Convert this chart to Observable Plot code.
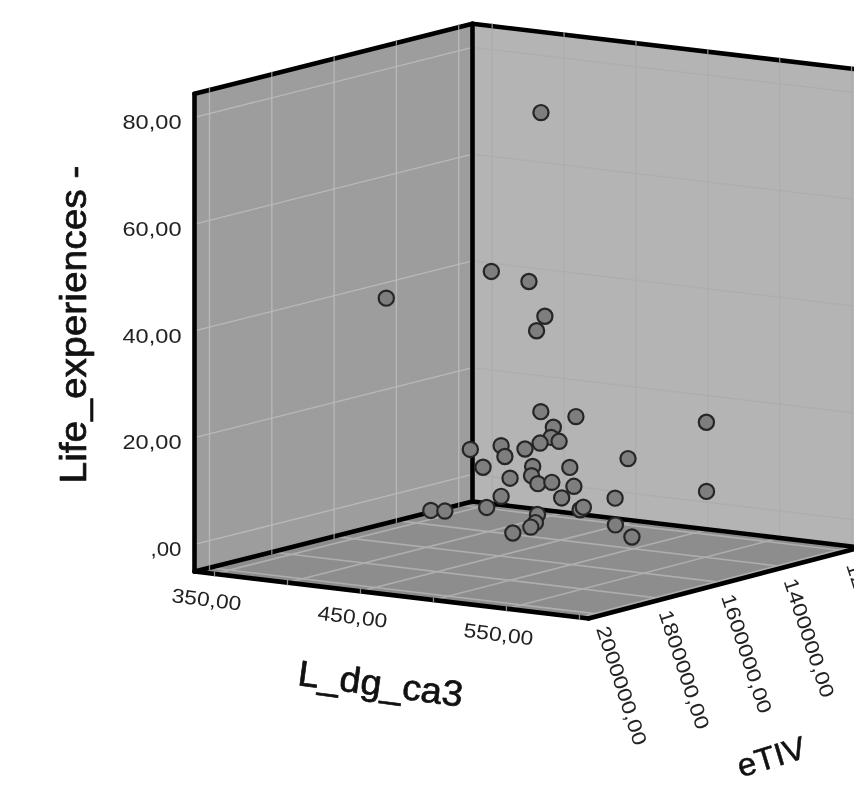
<!DOCTYPE html>
<html>
<head>
<meta charset="utf-8">
<script src="https://cdn.jsdelivr.net/npm/d3@7"></script>
<script src="https://cdn.jsdelivr.net/npm/@observablehq/plot@0.6"></script>
<style>
html,body{margin:0;padding:0;background:#fff;overflow:hidden;width:854px;height:785px}
svg{display:block;overflow:hidden;filter:blur(0.45px)}
</style>
</head>
<body>
<div id="chart"></div>
<script>
// ---- data (L_dg_ca3, eTIV, Life_experiences) ----
const caValues = [479.1,464.0,470.8,500.9,456.9,410.8,593.3,574.4,479.0,522.3,468.5,486.1,510.7,478.5,432.4,411.1,487.2,454.2,558.2,439.1,454.2,537.1,472.6,476.9,457.8,486.6,520.9,432.4,493.4,549.3,422.4,506.1,527.4,383.8,393.5,495.8,475.3,491.2,478.8,549.5,560.9];
const etivValues = [1600000,1690000,1600000,1690000,1510000,1780000,1600000,1510000,1600000,1690000,1510000,1600000,1690000,1600000,1510000,1510000,1690000,1600000,1690000,1600000,1510000,1780000,1600000,1690000,1510000,1600000,1690000,1510000,1600000,1690000,1510000,1600000,1690000,1510000,1510000,1690000,1600000,1690000,1690000,1690000,1690000];
const lifeValues = [78.9,50.0,47.0,42.8,36.0,44.6,24.6,9.7,22.9,24.7,18.3,18.3,19.7,17.0,13.7,12.3,17.5,13.7,18.0,11.2,10.5,17.0,10.7,11.7,7.4,9.9,11.6,4.2,7.2,10.3,1.8,5.4,7.9,0,0.2,5.5,2.0,3.0,1.5,5.3,3.4];

const caTicks = [350,400,450,500,550,600];
const caLabelled = [350,450,550];
const caLabels = ["350,00","450,00","550,00"];
const etivTicks = [2000000,1800000,1600000,1400000,1200000];
const etivLabels = ["2000000,00","1800000,00","1600000,00","1400000,00","1200000,00"];
const lifeTicks = [0,20,40,60,80];
const lifeLabels = [",00","20,00","40,00","60,00","80,00"];

const caDomain = [336.3,606.2];
const etivDomain = [2048150,1155700];   // front to back
const lifeDomain = [-5.06,84.4];

// ---- oblique view of the cube, fed to Plot's x / y scales ----
const corner = {D:[194,571],F:[588,618],B:[472,501],R:[860,547]};
const liftPerUnit = 5.34;
function project(ca, etiv, life){
  const u=(ca-caDomain[0])/(caDomain[1]-caDomain[0]);
  const v=(etiv-etivDomain[0])/(etivDomain[1]-etivDomain[0]);
  const bl=i=>(1-u)*(1-v)*corner.D[i]+u*(1-v)*corner.F[i]+(1-u)*v*corner.B[i]+u*v*corner.R[i];
  return {x:bl(0), y:bl(1)-(life-lifeDomain[0])*liftPerUnit};
}
const seg=(a,b)=>({x1:a.x,y1:a.y,x2:b.x,y2:b.y});
const [ca0,ca1]=caDomain,[e0,e1]=etivDomain,[l0,l1]=lifeDomain;

const poly=(pts)=>pts.map(p=>project(...p));
const paneLeft=poly([[ca0,e0,l0],[ca0,e1,l0],[ca0,e1,l1],[ca0,e0,l1]]);
const paneRight=poly([[ca0,e1,l0],[ca1,e1,l0],[ca1,e1,l1],[ca0,e1,l1]]);
const paneFloor=poly([[ca0,e0,l0],[ca1,e0,l0],[ca1,e1,l0],[ca0,e1,l0]]);

const gridLeft=[
  ...etivTicks.map(e=>seg(project(ca0,e,l0),project(ca0,e,l1))),
  ...lifeTicks.map(l=>seg(project(ca0,e0,l),project(ca0,e1,l)))
];
const gridRight=[
  ...caTicks.map(c=>seg(project(c,e1,l0),project(c,e1,l1))),
  ...lifeTicks.map(l=>seg(project(ca0,e1,l),project(ca1,e1,l)))
];
const gridFloor=[
  ...caTicks.map(c=>seg(project(c,e0,l0),project(c,e1,l0))),
  ...etivTicks.map(e=>seg(project(ca0,e,l0),project(ca1,e,l0)))
];
const edges=[
  [[ca0,e0,l0],[ca0,e0,l1]],[[ca0,e1,l0],[ca0,e1,l1]],
  [[ca0,e0,l1],[ca0,e1,l1]],[[ca0,e1,l1],[ca1,e1,l1]],
  [[ca0,e0,l0],[ca0,e1,l0]],[[ca0,e1,l0],[ca1,e1,l0]],
  [[ca0,e0,l0],[ca1,e0,l0]],[[ca1,e0,l0],[ca1,e1,l0]]
].map(([a,b])=>seg(project(...a),project(...b)));
const gaps=[
  ...caTicks.map(c=>seg(project(c,e0,l0-.5),project(c,e0,l0+.5))),
  ...etivTicks.map(e=>seg(project(ca0,e,l0-.5),project(ca0,e,l0+.5))),
  ...etivTicks.map(e=>seg(project(ca0,e,l1-.5),project(ca0,e,l1+.5))),
  ...caTicks.map(c=>seg(project(c,e1,l1-.5),project(c,e1,l1+.5)))
];

const points=caValues.map((c,i)=>project(c,etivValues[i],lifeValues[i]));
const lifeText=lifeTicks.map((l,i)=>({...project(ca0,e0,l),t:lifeLabels[i]}));
const caText=caLabelled.map((c,i)=>({...project(c,e0,l0),t:caLabels[i]}));
const etivSpread=1.5;
const etivText=etivTicks.map((e,i)=>{const p=project(ca1,e,l0);return {x:p.x+i*etivSpread,y:p.y,t:etivLabels[i]};});

const font="Liberation Sans, Arial, sans-serif";
const linkXY={x1:"x1",y1:"y1",x2:"x2",y2:"y2"};

const plot=Plot.plot({
  width:854,height:785,margin:0,
  x:{type:"linear",domain:[0,854],range:[0,854],axis:null},
  y:{type:"linear",domain:[0,785],range:[0,785],axis:null},
  style:{fontFamily:font,background:"#fff"},
  marks:[
    Plot.line(paneLeft,{x:"x",y:"y",fill:"#9d9d9d",stroke:"none"}),
    Plot.line(paneRight,{x:"x",y:"y",fill:"#b4b4b4",stroke:"none"}),
    Plot.line(paneFloor,{x:"x",y:"y",fill:"#8d8d8d",stroke:"none"}),
    Plot.link(gridLeft,{...linkXY,stroke:"#b9b9b9",strokeWidth:1.3}),
    Plot.link(gridRight,{...linkXY,stroke:"#adadad",strokeWidth:1.3}),
    Plot.link(gridFloor,{...linkXY,stroke:"#aeaeae",strokeWidth:1.6}),
    Plot.link(edges,{...linkXY,stroke:"#000",strokeWidth:4.6,strokeLinecap:"round"}),
    Plot.link(gaps,{...linkXY,stroke:"#8a8a8a",strokeWidth:1.3}),
    Plot.dot(points,{x:"x",y:"y",r:7.6,fill:"#7e7e7e",stroke:"#262626",strokeWidth:2.2}),
    Plot.text(lifeText,{x:"x",y:"y",text:"t",dx:-13,dy:5,textAnchor:"end",fontSize:21,fill:"#222"}),
    Plot.text(caText,{x:"x",y:"y",text:"t",dx:-8,dy:26,rotate:7,fontSize:20,fill:"#222"}),
    Plot.text(etivText,{x:"x",y:"y",text:"t",dx:-1,dy:12,rotate:72,textAnchor:"start",fontSize:20,fill:"#222"}),
    Plot.text(["Life_experiences -"],{x:[74],y:[324],text:d=>d,rotate:-90,fontSize:36,fill:"#111",stroke:"#111",strokeWidth:0.7}),
    Plot.text(["L_dg_ca3"],{x:[380],y:[684],text:d=>d,rotate:7.5,fontSize:36,fill:"#111",stroke:"#111",strokeWidth:0.7}),
    Plot.text(["eTIV"],{x:[771],y:[757],text:d=>d,rotate:-17,fontSize:32,fill:"#111",stroke:"#111",strokeWidth:0.5})
  ]
});
const lengths=new Map([
  ...caLabels.map(t=>[t,70]),...etivLabels.map(t=>[t,124]),
  ...lifeLabels.map(t=>[t,t===",00"?31:59]),
  ["Life_experiences -",318],["L_dg_ca3",166],["eTIV",70]
]);
d3.select(plot).selectAll("text").each(function(){
  const t=this.textContent;
  if(lengths.has(t)){ this.setAttribute("textLength",lengths.get(t)); this.setAttribute("lengthAdjust","spacingAndGlyphs"); }
});
document.getElementById("chart").appendChild(plot);
</script>
</body>
</html>
